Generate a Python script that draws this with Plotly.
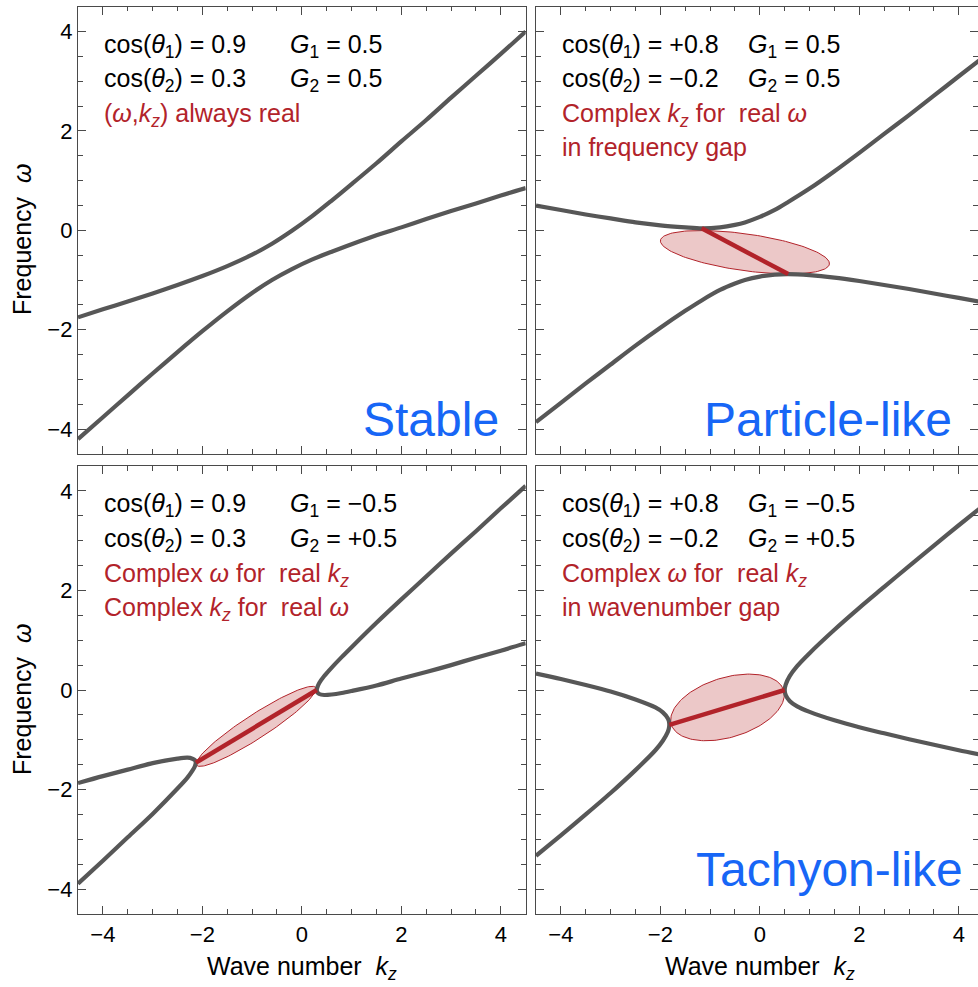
import math
import plotly.graph_objects as go

# ---------------- data ----------------
# Top-left: Stable
tl_k = [-4.5, -4, -3.5, -3, -2.5, -2, -1.5, -1, -0.6, -0.2, 0.2, 0.6, 1, 1.5, 2, 2.5, 3, 3.5, 4, 4.5]
tl_upper_w = [-1.75, -1.59, -1.43, -1.27, -1.10, -0.92, -0.72, -0.49, -0.27, -0.01, 0.28, 0.60, 0.93, 1.35, 1.79, 2.22, 2.67, 3.11, 3.55, 4.00]
tl_lower_w = [-4.20, -3.76, -3.32, -2.88, -2.45, -2.03, -1.63, -1.26, -1.00, -0.78, -0.59, -0.43, -0.28, -0.10, 0.06, 0.23, 0.39, 0.54, 0.70, 0.85]

# Top-right: Particle-like
tr_k = [-4.5, -4, -3.5, -3, -2.5, -2, -1.5, -1.17, -0.8, -0.5, -0.3, 0, 0.3, 0.57, 1, 1.5, 2, 2.5, 3, 3.5, 4, 4.5]
tr_upper_w = [0.50, 0.41, 0.32, 0.24, 0.16, 0.10, 0.06, 0.04, 0.06, 0.11, 0.16, 0.27, 0.41, 0.57, 0.84, 1.19, 1.56, 1.94, 2.32, 2.71, 3.10, 3.49]
tr_lower_w = [-3.86, -3.47, -3.08, -2.70, -2.32, -1.96, -1.62, -1.41, -1.20, -1.07, -1.00, -0.93, -0.89, -0.88, -0.90, -0.95, -1.02, -1.10, -1.18, -1.27, -1.36, -1.45]
tr_red_k = [-1.17, 0.57]
tr_red_w = [0.04, -0.88]

# Bottom-left
bl_right_k = [4.5, 4.0, 3.5, 3.0, 2.5, 2.0, 1.5, 1.0, 0.8, 0.6, 0.45, 0.35, 0.31, 0.30, 0.31, 0.35, 0.45, 0.6, 0.8, 1.0, 1.5, 2.0, 2.5, 3.0, 3.5, 4.0, 4.5]
bl_right_w = [4.10, 3.65, 3.19, 2.74, 2.28, 1.82, 1.35, 0.86, 0.66, 0.45, 0.28, 0.14, 0.05, 0.0, -0.04, -0.08, -0.10, -0.09, -0.06, -0.02, 0.09, 0.23, 0.36, 0.50, 0.65, 0.79, 0.94]
bl_left_k = [-4.5, -4.0, -3.5, -3.0, -2.5, -2.3, -2.2, -2.15, -2.133, -2.15, -2.2, -2.3, -2.5, -3.0, -3.5, -4.0, -4.5]
bl_left_w = [-1.87, -1.73, -1.60, -1.47, -1.38, -1.36, -1.38, -1.41, -1.46, -1.53, -1.62, -1.76, -1.98, -2.49, -2.96, -3.43, -3.89]
bl_red_k = [-2.13, 0.30]
bl_red_w = [-1.46, 0.0]

# Bottom-right: Tachyon-like
br_right_k = [4.5, 4.0, 3.5, 3.0, 2.5, 2.0, 1.5, 1.0, 0.75, 0.6, 0.52, 0.5, 0.52, 0.6, 0.75, 1.0, 1.5, 2.0, 2.5, 3.0, 3.5, 4.0, 4.5]
br_right_w = [3.71, 3.31, 2.90, 2.49, 2.07, 1.65, 1.21, 0.74, 0.48, 0.28, 0.11, 0.0, -0.10, -0.22, -0.33, -0.44, -0.61, -0.75, -0.87, -0.99, -1.10, -1.21, -1.31]
br_left_k = [-4.5, -4.0, -3.5, -3.0, -2.5, -2.1, -1.95, -1.85, -1.83, -1.82, -1.83, -1.85, -1.95, -2.1, -2.5, -3.0, -3.5, -4.0, -4.5]
br_left_w = [0.33, 0.22, 0.10, -0.03, -0.19, -0.35, -0.45, -0.57, -0.62, -0.70, -0.78, -0.84, -1.02, -1.21, -1.61, -2.07, -2.50, -2.92, -3.33]
br_red_k = [-1.82, 0.50]
br_red_w = [-0.70, 0.0]

# Shaded ellipses: centre (k, w), semi-axes, tilt in degrees
ellipse_centers = {"tr": (-0.30, -0.44), "bl": (-0.92, -0.73), "br": (-0.65, -0.35)}
ellipse_axes = {"tr": (1.715, 0.37), "bl": (1.43, 0.24), "br": (1.18, 0.60)}
ellipse_tilt = {"tr": -8, "bl": 33, "br": 17}

tick_major = [-4, -2, 0, 2, 4]

# Panel texts
txt_cos1 = ["cos(<i>θ</i><sub>1</sub>) = 0.9", "cos(<i>θ</i><sub>1</sub>) = +0.8",
            "cos(<i>θ</i><sub>1</sub>) = 0.9", "cos(<i>θ</i><sub>1</sub>) = +0.8"]
txt_cos2 = ["cos(<i>θ</i><sub>2</sub>) = 0.3", "cos(<i>θ</i><sub>2</sub>) = −0.2",
            "cos(<i>θ</i><sub>2</sub>) = 0.3", "cos(<i>θ</i><sub>2</sub>) = −0.2"]
txt_g1 = ["<i>G</i><sub>1</sub> = 0.5", "<i>G</i><sub>1</sub> = 0.5",
          "<i>G</i><sub>1</sub> = −0.5", "<i>G</i><sub>1</sub> = −0.5"]
txt_g2 = ["<i>G</i><sub>2</sub> = 0.5", "<i>G</i><sub>2</sub> = 0.5",
          "<i>G</i><sub>2</sub> = +0.5", "<i>G</i><sub>2</sub> = +0.5"]
txt_red = [
    ["(<i>ω</i>,<i>k</i><sub><i>z</i></sub>) always real"],
    ["Complex <i>k</i><sub><i>z</i></sub> for  real <i>ω</i>", "in frequency gap"],
    ["Complex <i>ω</i> for  real <i>k</i><sub><i>z</i></sub>", "Complex <i>k</i><sub><i>z</i></sub> for  real <i>ω</i>"],
    ["Complex <i>ω</i> for  real <i>k</i><sub><i>z</i></sub>", "in wavenumber gap"],
]
txt_regime = ["Stable", "Particle-like", None, "Tachyon-like"]

# ---------------- styling ----------------
GREY = "#575757"
RED = "#b2232a"
BLUE = "#1766f6"
FRAME = "#4a4a4a"
FONT = "Liberation Sans, Arial, sans-serif"
W, H = 978, 987

fig = go.Figure()
axes = [("x", "y"), ("x2", "y2"), ("x3", "y3"), ("x4", "y4")]


def add_line(k, w, i, color=GREY, width=4.2, shape="spline"):
    xa, ya = axes[i]
    fig.add_trace(go.Scatter(x=k, y=w, xaxis=xa, yaxis=ya, mode="lines",
                             line=dict(color=color, width=width, shape=shape, smoothing=0.8),
                             hoverinfo="skip", showlegend=False))


def add_ellipse(key, i):
    xa, ya = axes[i]
    cx, cy = ellipse_centers[key]
    a, b = ellipse_axes[key]
    th = math.radians(ellipse_tilt[key])
    n = 160
    ts = [2 * math.pi * j / n for j in range(n + 1)]
    xs = [cx + a * math.cos(t) * math.cos(th) - b * math.sin(t) * math.sin(th) for t in ts]
    ys = [cy + a * math.cos(t) * math.sin(th) + b * math.sin(t) * math.cos(th) for t in ts]
    fig.add_trace(go.Scatter(x=xs, y=ys, xaxis=xa, yaxis=ya, mode="lines", fill="toself",
                             fillcolor="rgba(178,34,34,0.25)", line=dict(color=RED, width=1),
                             hoverinfo="skip", showlegend=False))


# Panel 0
add_line(tl_k, tl_upper_w, 0)
add_line(tl_k, tl_lower_w, 0)
# Panel 1
add_ellipse("tr", 1)
add_line(tr_k, tr_upper_w, 1)
add_line(tr_k, tr_lower_w, 1)
add_line(tr_red_k, tr_red_w, 1, color=RED, width=4.5, shape="linear")
# Panel 2
add_ellipse("bl", 2)
add_line(bl_right_k, bl_right_w, 2)
add_line(bl_left_k, bl_left_w, 2)
add_line(bl_red_k, bl_red_w, 2, color=RED, width=4.5, shape="linear")
# Panel 3
add_ellipse("br", 3)
add_line(br_right_k, br_right_w, 3)
add_line(br_left_k, br_left_w, 3)
add_line(br_red_k, br_red_w, 3, color=RED, width=4.5, shape="linear")

# ---------------- axes ----------------
x_left = [78 / W, 525.7 / W]
x_right = [536 / W, 1.0]
y_top = [1 - 454 / H, 1 - 6.7 / H]
y_bot = [1 - 914 / H, 1 - 466 / H]
right_max = -4.5 + (W - 536) / 49.74


def axis(domain, anchor, rng, labels):
    return dict(domain=domain, anchor=anchor, range=rng, showgrid=False, zeroline=False,
                showline=True, linecolor=FRAME, linewidth=1.3, mirror="ticks",
                ticks="inside", ticklen=8, tickwidth=1.2, tickcolor=FRAME,
                tickmode="array", tickvals=tick_major, showticklabels=labels,
                tickfont=dict(family=FONT, size=22, color="black"),
                minor=dict(dtick=0.5, tick0=0, ticks="inside", ticklen=4.5, tickwidth=1, tickcolor=FRAME),
                fixedrange=True)


fig.update_layout(
    xaxis=axis(x_left, "y", [-4.5, 4.5], False),
    xaxis2=axis(x_right, "y2", [-4.5, right_max], False),
    xaxis3=axis(x_left, "y3", [-4.5, 4.5], True),
    xaxis4=axis(x_right, "y4", [-4.5, right_max], True),
    yaxis=axis(y_top, "x", [-4.5, 4.5], True),
    yaxis2=axis(y_top, "x2", [-4.5, 4.5], False),
    yaxis3=axis(y_bot, "x3", [-4.5, 4.5], True),
    yaxis4=axis(y_bot, "x4", [-4.5, 4.5], False),
)

# ---------------- annotations ----------------
ann = []
TXT = 25
line_tops = [4.05, 3.36, 2.66, 1.97]
for i, (xa, ya) in enumerate(axes):
    rows = [(txt_cos1[i], -4.0, 0), (txt_g1[i], -0.26, 0),
            (txt_cos2[i], -4.0, 1), (txt_g2[i], -0.26, 1)]
    for t, x0, r in rows:
        ann.append(dict(text=t, x=x0, y=line_tops[r], xref=xa, yref=ya, xanchor="left", yanchor="top",
                        showarrow=False, borderpad=0, font=dict(family=FONT, size=TXT, color="black")))
    for j, t in enumerate(txt_red[i]):
        ann.append(dict(text=t, x=-4.0, y=line_tops[2 + j], xref=xa, yref=ya, xanchor="left",
                        yanchor="top", showarrow=False, borderpad=0,
                        font=dict(family=FONT, size=TXT, color=RED)))

regime_pos = [(3.98, -3.26), (3.88, -3.26), None, (4.10, -3.06)]
for i, t in enumerate(txt_regime):
    if t is None:
        continue
    xa, ya = axes[i]
    ann.append(dict(text=t, x=regime_pos[i][0], y=regime_pos[i][1], xref=xa, yref=ya,
                    xanchor="right", yanchor="top", showarrow=False, borderpad=0,
                    font=dict(family=FONT, size=48, color=BLUE)))

for yc in [239, 699]:
    ann.append(dict(text="Frequency  <i>ω</i>", x=22 / W, y=1 - yc / H, xref="paper", yref="paper",
                    textangle=-90, xanchor="center", yanchor="middle", showarrow=False,
                    font=dict(family=FONT, size=25, color="black")))
for xc in [302, 760]:
    ann.append(dict(text="Wave number  <i>k</i><sub><i>z</i></sub>", x=xc / W, y=1 - 968 / H,
                    xref="paper", yref="paper", xanchor="center", yanchor="middle", showarrow=False,
                    font=dict(family=FONT, size=25, color="black")))

fig.update_layout(annotations=ann, width=W, height=H, margin=dict(l=0, r=0, t=0, b=0),
                  paper_bgcolor="white", plot_bgcolor="white", showlegend=False)

fig.write_html("out.html")
